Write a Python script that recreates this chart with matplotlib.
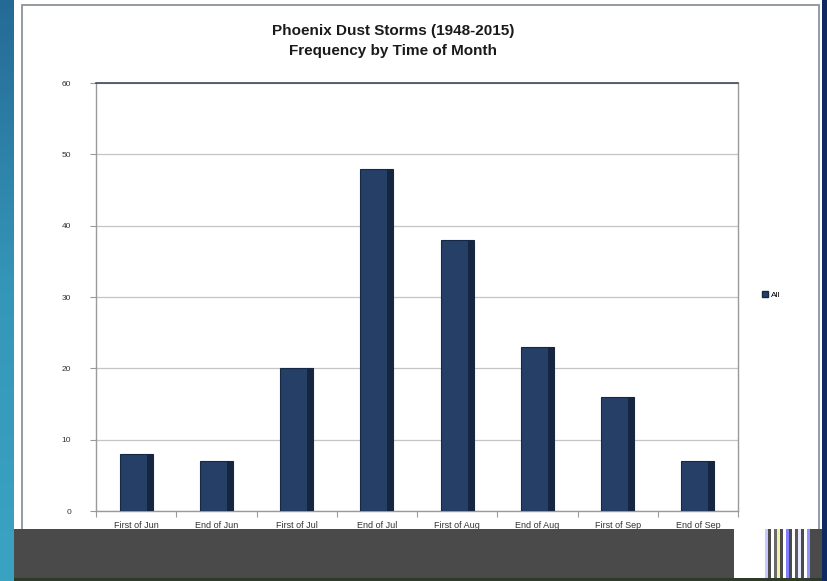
import numpy as np
import matplotlib.pyplot as plt
from matplotlib.patches import Rectangle, Patch
from matplotlib.colors import LinearSegmentedColormap

# Chart data
categories = ["First of Jun", "End of Jun", "First of Jul", "End of Jul",
              "First of Aug", "End of Aug", "First of Sep", "End of Sep"]
storms = [8, 7, 20, 48, 38, 23, 16, 7]
y_ticks = [0, 10, 20, 30, 40, 50, 60]
series_name = "All"

W, H = 827, 581
fig = plt.figure(figsize=(W / 100, H / 100), dpi=100)
fig.patch.set_facecolor("white")


def px_rect(x0, y0, x1, y1, **kw):
    # rectangle given in pixel coords (origin top-left)
    r = Rectangle((x0 / W, 1 - y1 / H), (x1 - x0) / W, (y1 - y0) / H,
                  transform=fig.transFigure, **kw)
    fig.add_artist(r)
    return r


# slide background: blue strip on the left (gradient), navy edge on the right
grad_ax = fig.add_axes([0, 0, 14 / W, 1])
grad = np.linspace(0, 1, 256).reshape(-1, 1)
cmap = LinearSegmentedColormap.from_list("slide", ["#256a96", "#3597b8", "#3ba3c2"])
grad_ax.imshow(grad, aspect="auto", cmap=cmap)
grad_ax.set_axis_off()
px_rect(822, 0, 827, 581, facecolor="#0f2a5e", edgecolor="none")

# chart frame
px_rect(22, 5, 819, 600, facecolor="none", edgecolor="#8c939c", linewidth=1.3)

# plot area
ax = fig.add_axes([96 / W, 1 - 511 / H, (738 - 96) / W, (511 - 83) / H])
x = np.arange(len(categories))
bw = 0.41
ax.bar(x, storms, width=bw, color="#253f67", edgecolor="#162844", linewidth=0.8, zorder=3)
# darker bevel on the right side of each bar
sw = 0.075
ax.bar(x + bw / 2 - sw, storms, width=sw, align="edge", color="#162641",
       edgecolor="none", zorder=4)

ax.set_xlim(-0.5, len(categories) - 0.5)
ax.set_ylim(0, 60)
ax.set_yticks(y_ticks)
ax.set_yticklabels([str(v) for v in y_ticks], fontsize=6, color="#333333",
                   family="Liberation Sans")
ax.set_xticks(x)
ax.set_xticklabels(categories, fontsize=6.5, color="#333333", family="Liberation Sans")
ax.set_xticks(np.arange(len(categories) + 1) - 0.5, minor=True)
ax.tick_params(axis="x", which="major", length=0, pad=7)
ax.tick_params(axis="x", which="minor", length=4, color="#9a9a9a", width=0.8)
ax.tick_params(axis="y", length=4, color="#9a9a9a", width=0.8, pad=14)
ax.grid(axis="y", color="#c4c4c4", linewidth=0.9, zorder=0)
ax.set_axisbelow(True)
for side in ["left", "right", "bottom"]:
    ax.spines[side].set_color("#9a9a9a")
    ax.spines[side].set_linewidth(1.0)
ax.spines["top"].set_color("#3c4a5c")
ax.spines["top"].set_linewidth(1.2)

# title
fig.text(393 / W, 1 - 31 / H, "Phoenix Dust Storms (1948-2015)", ha="center", va="center",
         fontsize=11, fontweight="bold", family="Liberation Sans", color="#1a1a1a")
fig.text(393 / W, 1 - 51 / H, "Frequency by Time of Month", ha="center", va="center",
         fontsize=11, fontweight="bold", family="Liberation Sans", color="#1a1a1a")

# legend
fig.legend(handles=[Patch(facecolor="#253f67", edgecolor="#162844", label=series_name)],
           loc="center left", bbox_to_anchor=(754 / W, 1 - 295 / H), frameon=False,
           handlelength=0.8, handleheight=0.8, handletextpad=0.3,
           prop={"family": "Liberation Sans", "size": 6})

# grey bar covering the bottom of the slide
px_rect(14, 529, 734, 578, facecolor="#4a4a4a", edgecolor="none", zorder=10)
px_rect(734, 529, 765, 578, facecolor="white", edgecolor="none", zorder=10)
stripe_cols = ["#c8c8ff", "#4a4a4a", "#ffffff", "#6a6a6a", "#f2f2a0", "#4a4a4a",
               "#ffffff", "#8080ff", "#4a4a4a", "#ffffff", "#5a5a5a", "#e8e8ff",
               "#4a4a4a", "#ffffff", "#9090ff", "#4a4a4a"]
sx = 765
for c in stripe_cols:
    px_rect(sx, 529, sx + 3, 578, facecolor=c, edgecolor="none", zorder=10)
    sx += 3
px_rect(812, 529, 822, 578, facecolor="#4a4a4a", edgecolor="none", zorder=10)
px_rect(14, 578, 822, 581, facecolor="#2e3a28", edgecolor="none", zorder=10)

fig.savefig("out.png", dpi=100)
